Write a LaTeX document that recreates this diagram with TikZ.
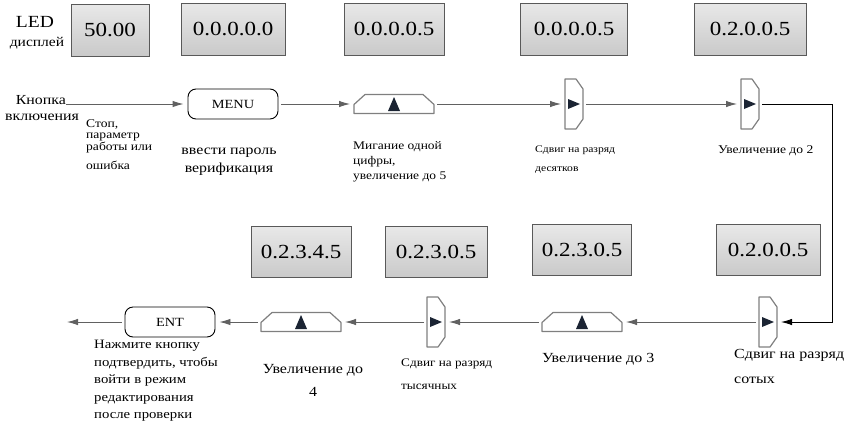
\documentclass[tikz,border=0pt]{standalone}
\usepackage{fontspec}
\setmainfont[FakeStretch=1.15]{Liberation Serif}
\usetikzlibrary{arrows.meta,positioning}

\newcommand{\fs}[2]{\fontsize{#1}{#2}\selectfont}
\definecolor{keyink}{HTML}{1B2433}
\definecolor{keyedge}{HTML}{7F7F7F}

% outlines of the arrow keys, cut at the corners
\newcommand{\upframe}[1]{%
  \draw[keyline] (#1.south west) -- ([yshift=-10pt]#1.north west) -- ([xshift=11pt]#1.north west)
    -- ([xshift=-11pt]#1.north east) -- ([yshift=-10pt]#1.north east) -- (#1.south east) -- cycle;}
\newcommand{\rightframe}[1]{%
  \draw[keyline] (#1.south west) -- (#1.north west) -- ([xshift=-7pt]#1.north east)
    -- ([yshift=-10pt]#1.north east) -- ([yshift=10pt]#1.south east) -- ([xshift=-7pt]#1.south east) -- cycle;}

\tikzset{
  display/.style={draw=black!65, top color=black!9, bottom color=black!21,
    minimum width=104pt, minimum height=51pt, inner sep=0pt, font=\fs{20}{20}},
  btnbox/.style={draw, line width=0.9pt, rounded corners=8pt, minimum width=90pt,
    minimum height=30pt, inner sep=0pt, font=\fs{12.5}{12.5}},
  keyline/.style={draw=keyedge, line width=1.2pt, line join=round},
  upkey/.style={minimum width=80pt, minimum height=19pt, inner sep=0pt, outer sep=0pt,
    path picture={\fill[keyink] (path picture bounding box.center) ++(-6pt,-7pt)
      -- ++(12pt,0) -- ++(-6pt,14pt) -- cycle;}},
  rightkey/.style={minimum width=18pt, minimum height=50pt, inner sep=0pt, outer sep=0pt,
    path picture={\fill[keyink] (path picture bounding box.center) ++(-6pt,-5pt)
      -- ++(0,10pt) -- ++(12pt,-5pt) -- cycle;}},
  note/.style={inner sep=0pt, align=left, anchor=north west},
  flow/.style={draw=black!62, line width=0.9pt, shorten >=4pt, shorten <=3pt,
    -{Latex[length=11pt,width=6.5pt]}},
}

\begin{document}
\begin{tikzpicture}[x=1pt, y=-1pt, node distance=75pt, on grid]
  \useasboundingbox (0,0) rectangle (850,426);

  % entry / first row
  \node[anchor=base east, inner sep=0pt, font=\fs{13.8}{14}] (btn) at (66,104) {Кнопка};
  \node[anchor=base, inner sep=0pt, font=\fs{13.8}{14}] (btnb) at (42,120) {включения};
  \node[btnbox] (menu) at (233,104) {MENU};
  \node[upkey, right=161pt of menu] (up1) {};
  \node[rightkey, right=180pt of up1] (r1) {};
  \node[rightkey, right=176pt of r1] (r2) {};
  \coordinate[right=82pt of r2] (bend);

  % second row, right to left
  \node[rightkey] (r3) at (768,322) {};
  \node[upkey, left=186pt of r3] (up3) {};
  \node[rightkey, left=146pt of up3] (r4) {};
  \node[upkey, left=135pt of r4] (up2) {};
  \node[btnbox, left=131pt of up2] (ent) {ENT};
  \coordinate[left=107pt of ent] (exit);

  \upframe{up1} \upframe{up2} \upframe{up3}
  \rightframe{r1} \rightframe{r2} \rightframe{r3} \rightframe{r4}

  % LED readings
  \node[inner sep=0pt, font=\fs{17}{18}] (led) at (35,22) {LED};
  \node[inner sep=0pt, font=\fs{13.5}{14}] (ledb) at (37,43) {дисплей};
  \node[display, minimum width=78pt, minimum height=52pt] (d1) at (110,30) {50.00};
  \node[display, minimum height=52pt, above=of menu] (d2) {0.0.0.0.0};
  \node[display, minimum width=100pt, minimum height=52pt, above=of up1] (d3) {0.0.0.0.5};
  \node[display, minimum width=107pt, minimum height=52pt, above=of r1] (d4) {0.0.0.0.5};
  \node[display, minimum width=112pt, minimum height=52pt, above=of r2] (d5) {0.2.0.0.5};
  \node[display, above=72pt of r3] (d6) {0.2.0.0.5};
  \node[display, minimum width=99pt, above=72pt of up3] (d7) {0.2.3.0.5};
  \node[display, minimum width=102pt, above=70pt of r4] (d8) {0.2.3.0.5};
  \node[display, minimum width=100pt, above=70pt of up2] (d9) {0.2.3.4.5};

  % captions
  \node[note, font=\fs{11.8}{11.5}] (c0) at (86,119) {Стоп,\\параметр\\работы или\\[7.5pt]ошибка};
  \node[note, align=center, anchor=north, font=\fs{13.8}{18}] (c1) at (229,148) {ввести пароль\\верификация};
  \node[note, font=\fs{11.7}{15}] (c2) at (353,141) {Мигание одной\\цифры,\\увеличение до 5};
  \node[note, font=\fs{10.1}{19}] (c3) at (535,146) {Сдвиг на разряд\\десятков};
  \node[note, font=\fs{11.8}{12}] (c4) at (718,145) {Увеличение до 2};
  \node[note, font=\fs{13.9}{25}] (c5) at (734,349) {Сдвиг на разряд\\сотых};
  \node[note, font=\fs{13.9}{14}] (c6) at (542,353) {Увеличение до 3};
  \node[note, font=\fs{11.5}{23}] (c7) at (401,359) {Сдвиг на разряд\\тысячных};
  \node[note, align=center, anchor=north, font=\fs{13.9}{23}] (c8) at (313,364) {Увеличение до\\4};
  \node[note, font=\fs{12.8}{17.5}] (c9) at (94,340) {Нажмите кнопку\\подтвердить, чтобы\\войти в режим\\редактирования\\после проверки};

  % key sequence
  \draw[flow, shorten <=0pt] (btn.base east) -- (menu);
  \draw[flow] (menu) -- (up1);
  \draw[flow] (up1) -- (r1);
  \draw[flow] (r1) -- (r2);
  \draw[flow, draw=black] (r2) -- (bend) |- (r3);
  \draw[flow] (r3) -- (up3);
  \draw[flow] (up3) -- (r4);
  \draw[flow] (r4) -- (up2);
  \draw[flow] (up2) -- (ent);
  \draw[flow] (ent) -- (exit);
\end{tikzpicture}
\end{document}
